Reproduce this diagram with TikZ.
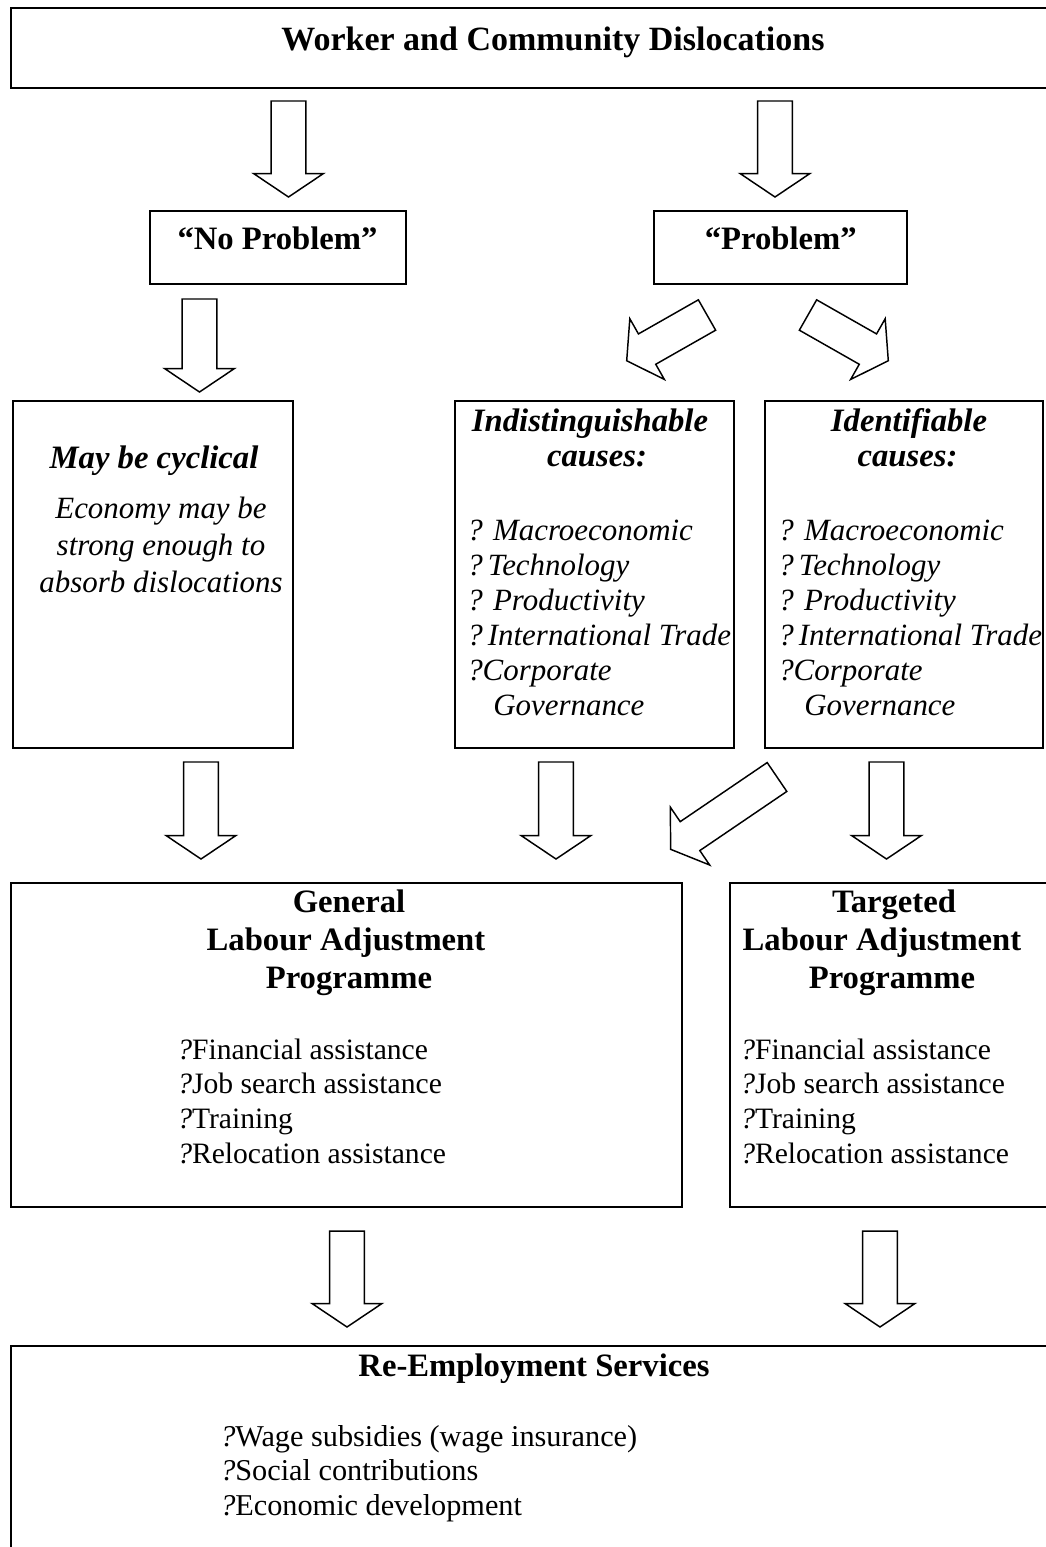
\documentclass[tikz,border=0pt]{standalone}
\usepackage{fontspec}
\setmainfont{Liberation Serif}
\usetikzlibrary{calc, fit, positioning}

\newcommand\ttlfont{\fontsize{25.5}{30}\selectfont\bfseries}
\newcommand\hdfont{\fontsize{24.5}{29}\selectfont\bfseries}
\newcommand\bifont{\fontsize{24.5}{29}\selectfont\bfseries\itshape}
\newcommand\itfont{\fontsize{23.2}{27}\selectfont\itshape}
\newcommand\txtfont{\fontsize{22.2}{26}\selectfont}
\newcommand\btmfont{\fontsize{22.7}{26}\selectfont}

% block arrow: shaft half width, head half width, head length
\def\shw{13.1pt}\def\hhw{26.2pt}\def\hlen{17.6pt}
\newcommand\blockarrow[2]{%
  \coordinate (#1-hb) at ($(#2)!\hlen!(#1)$);
  \draw[barrow] ($(#1)!\shw!90:(#2)$) -- ($(#1-hb)!\shw!90:(#2)$)
    -- ($(#1-hb)!\hhw!90:(#2)$) -- (#2) -- ($(#1-hb)!\hhw!-90:(#2)$)
    -- ($(#1-hb)!\shw!-90:(#2)$) -- ($(#1)!\shw!-90:(#2)$) -- cycle;
}

\begin{document}
\begin{tikzpicture}[x=0.75pt, y=-0.75pt,
  box/.style={draw, line width=1.4pt, inner sep=0pt},
  barrow/.style={draw, line width=1.1pt, fill=white, line join=miter},
  ttl/.style={font=\ttlfont, inner sep=0pt, anchor=base},
  hd/.style={font=\hdfont, inner sep=0pt, anchor=base},
  bi/.style={font=\bifont, inner sep=0pt, anchor=base},
  itx/.style={font=\itfont, inner sep=0pt, anchor=base},
  itl/.style={font=\itfont, inner sep=0pt, anchor=base west},
  txt/.style={font=\txtfont, inner sep=0pt, anchor=base west}]
\useasboundingbox (0,0) rectangle (1046,1547);
\clip (0,0) rectangle (1046,1547);

% boxes
\node[box, fit={(11,8) (1070,88)}] (top) {};
\node[box, fit={(150,211) (406,284)}] (nop) {};
\node[box, fit={(654,211) (907,284)}] (prob) {};
\node[box, fit={(13,401) (293,748)}] (cyc) {};
\node[box, fit={(455,401) (734,748)}] (indist) {};
\node[box, fit={(765,401) (1043,748)}] (ident) {};
\node[box, fit={(11,883) (682,1207)}] (gen) {};
\node[box, fit={(730,883) (1070,1207)}] (targ) {};
\node[box, fit={(11,1346) (1070,1570)}] (reemp) {};

% arrows (tail a, tip b)
\coordinate (a1) at (288.5,101);  \coordinate (b1) at (288.5,197);
\coordinate (a2) at (775,101);    \coordinate (b2) at (775,197);
\coordinate (a3) at (199.5,299);  \coordinate (b3) at (199.5,392);
\coordinate (a4) at (707,315);    \coordinate (b4) at (626.7,360.7);
\coordinate (a5) at (808,315);    \coordinate (b5) at (888.3,360.7);
\coordinate (a6) at (201,762);    \coordinate (b6) at (201,859);
\coordinate (a7) at (556,762);    \coordinate (b7) at (556,859);
\coordinate (a8) at (777,777);    \coordinate (b8) at (670.6,849.3);
\coordinate (a9) at (886.5,762);  \coordinate (b9) at (886.5,859);
\coordinate (a10) at (347,1231);  \coordinate (b10) at (347,1327);
\coordinate (a11) at (880,1231);  \coordinate (b11) at (880,1327);
\foreach \i in {1,...,11} {\blockarrow{a\i}{b\i}}

% texts
\node[ttl] (top-t) at (553,50) {Worker and Community Dislocations};
\node[hd] (nop-t) at (277.5,249) {“No Problem”};
\node[hd] (prob-t) at (780.7,249) {“Problem”};

\node[bi] (cyc-t) at (154,468) {May be cyclical};
\node[itx] (cyc-1) at (161,518) {Economy may be};
\node[itx] (cyc-2) at (161,555) {strong enough to};
\node[itx] (cyc-3) at (161,592) {absorb dislocations};

\node[bi] (indist-t) at (590,431) {Indistinguishable};
\node[bi] (indist-c) at (597,466) {causes:};
\node[bi] (ident-t) at (909,431) {Identifiable};
\node[bi] (ident-c) at (907.5,466) {causes:};
\foreach \bx/\x in {indist/467, ident/778} {
  \foreach \t [count=\i from 0] in {? Macroeconomic, ?\,Technology, ? Productivity, ?\,International Trade, ?Corporate}
    \node[itl] (\bx-\i) at (\x, {540+35.1*\i}) {\t};
  \node[itl] (\bx-g) at (\x+26, 715.5) {Governance};
}

\node[hd] (gen-1) at (349,912) {General};
\node[hd] (gen-2) at (346,950) {Labour Adjustment};
\node[hd] (gen-3) at (349,988) {Programme};
\node[hd] (targ-1) at (894,912) {Targeted};
\node[hd] (targ-2) at (882,950) {Labour Adjustment};
\node[hd] (targ-3) at (892,988) {Programme};
\foreach \bx/\x in {gen/177, targ/740} {
  \foreach \t [count=\i from 0] in {Financial assistance, Job search assistance, Training, Relocation assistance}
    \node[txt] (\bx-l\i) at (\x, {1059+34.7*\i}) {\textit{?}\t};
}

\node[hd] (reemp-t) at (534,1376) {Re-Employment Services};
\foreach \t [count=\i from 0] in {Wage subsidies (wage insurance), Social contributions, Economic development}
  \node[txt, font=\btmfont] (reemp-\i) at (220, {1446+34.5*\i}) {\textit{?}\t};
\end{tikzpicture}
\end{document}
